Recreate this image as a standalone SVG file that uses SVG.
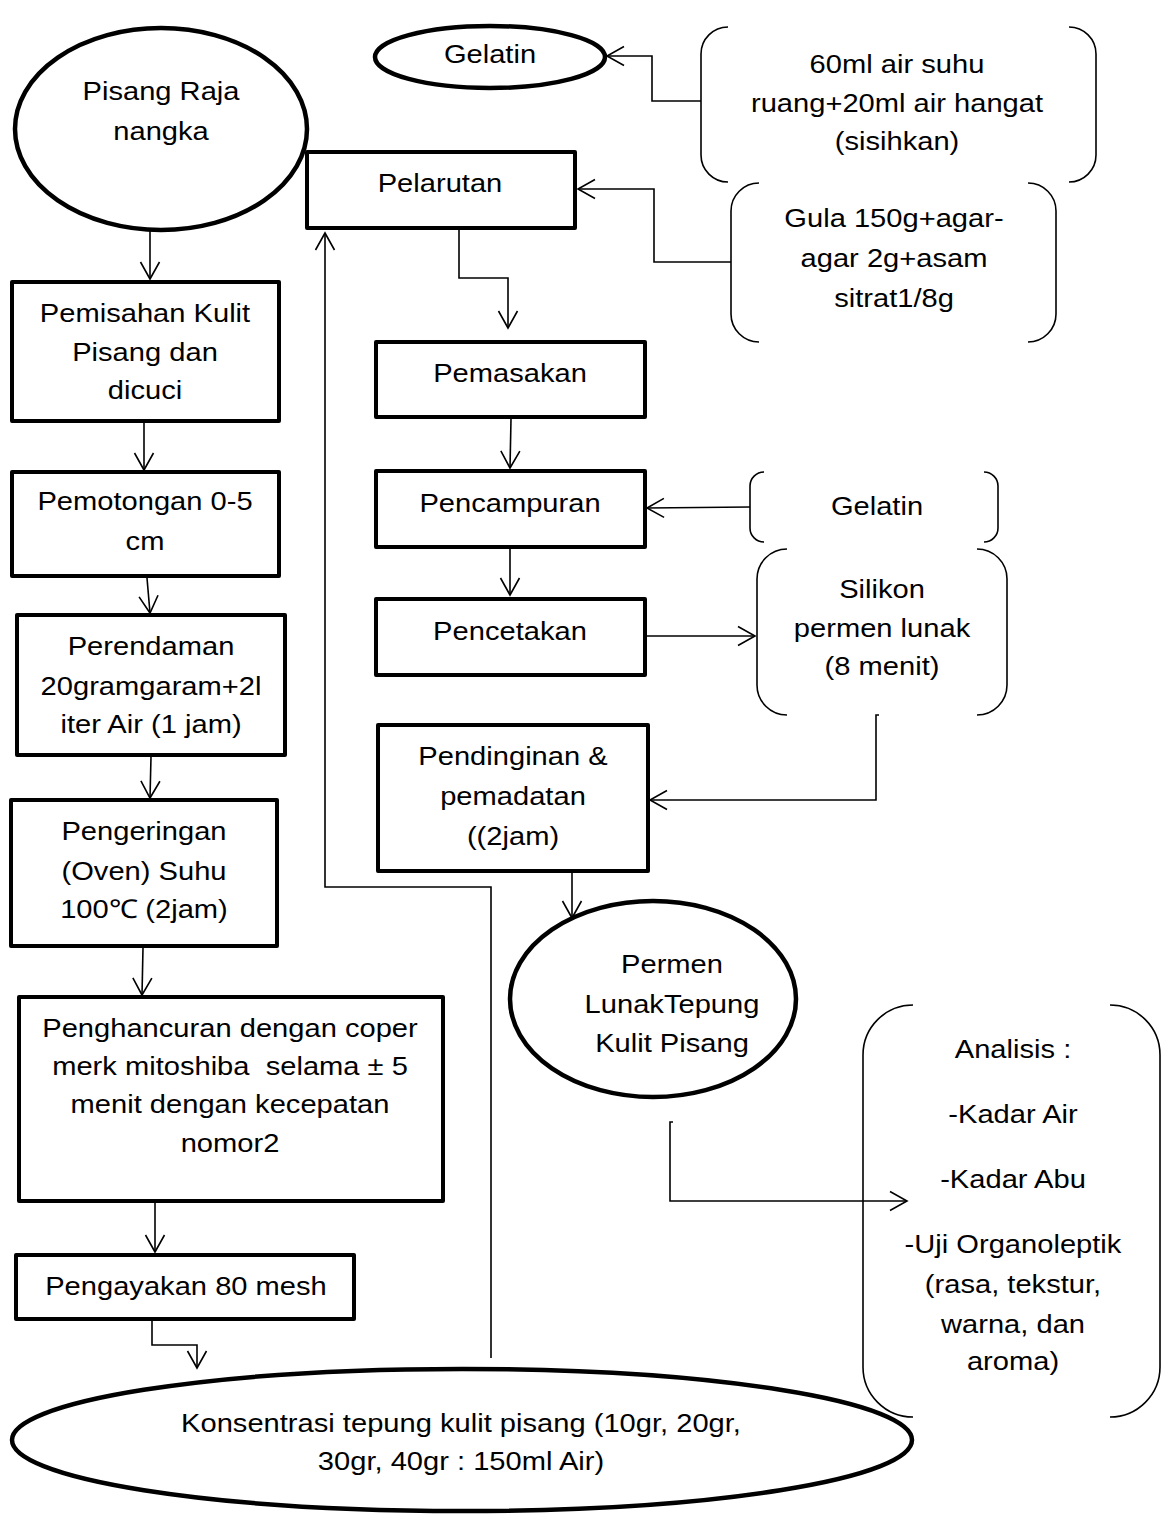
<svg xmlns="http://www.w3.org/2000/svg" width="1162" height="1514" viewBox="0 0 1162 1514">
<style>
.box{fill:#fff;stroke:#000;stroke-width:4;stroke-linejoin:round}
.oval{fill:#fff;stroke:#000;stroke-width:4.5}
.brace{fill:none;stroke:#000;stroke-width:1.6}
.con{fill:none;stroke:#000;stroke-width:1.6}
.arr{marker-end:url(#ah)}
text{font-family:"Liberation Sans",Arial,sans-serif;font-size:26px;text-anchor:middle;fill:#000}
</style>
<defs>
<marker id="ah" markerUnits="userSpaceOnUse" viewBox="-18 -11 20 22" refX="0" refY="0" markerWidth="20" markerHeight="22" orient="auto">
<path d="M-17,-9.5 L0,0 L-17,9.5" fill="none" stroke="#000" stroke-width="1.6"/>
</marker>
</defs>
<rect width="1162" height="1514" fill="#fff"/>

<g id="connectors">
<path class="con arr" d="M150,231 L150,279"/>
<path class="con arr" d="M144,423 L144,470"/>
<path class="con arr" d="M147,578 L150,613"/>
<path class="con arr" d="M151,757 L150,798"/>
<path class="con arr" d="M143,948 L142,995"/>
<path class="con arr" d="M155,1203 L155,1252"/>
<path class="con arr" d="M152,1321 L152,1345 L197,1345 L197,1368"/>
<path class="con arr" d="M491,1358 L491,887 L325,887 L325,233"/>
<path class="con arr" d="M459,230 L459,278 L508,278 L508,328"/>
<path class="con arr" d="M511,419 L510,468"/>
<path class="con arr" d="M510,549 L510,595"/>
<path class="con arr" d="M647,636 L755,636"/>
<path class="con arr" d="M879,715 L876,715 L876,800 L650,800"/>
<path class="con arr" d="M572,873 L572,918"/>
<path class="con arr" d="M673,1122 L670,1122 L670,1201 L907,1201"/>
<path class="con arr" d="M701,101 L652,101 L652,56 L607,56"/>
<path class="con arr" d="M731,262 L654,262 L654,189 L578,189"/>
<path class="con arr" d="M750,507 L647,508"/>
</g>

<g id="pisang">
<ellipse class="oval" cx="161" cy="129" rx="146" ry="101"/>
<text transform="matrix(1.12 0 0 1 161 0)"><tspan x="0" y="100">Pisang Raja</tspan><tspan x="0" y="140">nangka</tspan></text>
</g>

<g id="gelatin1">
<ellipse class="oval" cx="490" cy="57" rx="115" ry="31"/>
<text transform="matrix(1.12 0 0 1 490 0)"><tspan x="0" y="63">Gelatin</tspan></text>
</g>

<g id="air">
<path class="brace" d="M728,27 A27,27 0 0 0 701,54 L701,155 A27,27 0 0 0 728,182"/>
<path class="brace" d="M1069,27 A27,27 0 0 1 1096,54 L1096,155 A27,27 0 0 1 1069,182"/>
<text transform="matrix(1.12 0 0 1 897 0)"><tspan x="0" y="73">60ml air suhu</tspan><tspan x="0" y="112">ruang+20ml air hangat</tspan><tspan x="0" y="150">(sisihkan)</tspan></text>
</g>

<g id="gula">
<path class="brace" d="M759,183 A28,28 0 0 0 731,211 L731,314 A28,28 0 0 0 759,342"/>
<path class="brace" d="M1028,183 A28,28 0 0 1 1056,211 L1056,314 A28,28 0 0 1 1028,342"/>
<text transform="matrix(1.12 0 0 1 894 0)"><tspan x="0" y="227">Gula 150g+agar-</tspan><tspan x="0" y="267">agar 2g+asam</tspan><tspan x="0" y="307">sitrat1/8g</tspan></text>
</g>

<g id="pemisahan">
<rect class="box" x="12" y="282" width="267" height="139"/>
<text transform="matrix(1.12 0 0 1 145 0)"><tspan x="0" y="322">Pemisahan Kulit</tspan><tspan x="0" y="361">Pisang dan</tspan><tspan x="0" y="399">dicuci</tspan></text>
</g>

<g id="pemotongan">
<rect class="box" x="12" y="472" width="267" height="104"/>
<text transform="matrix(1.12 0 0 1 145 0)"><tspan x="0" y="510">Pemotongan 0-5</tspan><tspan x="0" y="550">cm</tspan></text>
</g>

<g id="perendaman">
<rect class="box" x="17" y="615" width="268" height="140"/>
<text transform="matrix(1.12 0 0 1 151 0)"><tspan x="0" y="655">Perendaman</tspan><tspan x="0" y="695">20gramgaram+2l</tspan><tspan x="0" y="733">iter Air (1 jam)</tspan></text>
</g>

<g id="pengeringan">
<rect class="box" x="11" y="800" width="266" height="146"/>
<text transform="matrix(1.12 0 0 1 144 0)"><tspan x="0" y="840">Pengeringan</tspan><tspan x="0" y="880">(Oven) Suhu</tspan><tspan x="0" y="918">100℃ (2jam)</tspan></text>
</g>

<g id="penghancuran">
<rect class="box" x="19" y="997" width="424" height="204"/>
<text transform="matrix(1.12 0 0 1 230 0)" xml:space="preserve"><tspan x="0" y="1037">Penghancuran dengan coper</tspan><tspan x="0" y="1075">merk mitoshiba  selama ± 5</tspan><tspan x="0" y="1113">menit dengan kecepatan</tspan><tspan x="0" y="1152">nomor2</tspan></text>
</g>

<g id="pengayakan">
<rect class="box" x="16" y="1255" width="338" height="64"/>
<text transform="matrix(1.12 0 0 1 186 0)"><tspan x="0" y="1295">Pengayakan 80 mesh</tspan></text>
</g>

<g id="konsentrasi">
<ellipse class="oval" cx="462" cy="1440" rx="450" ry="71"/>
<text transform="matrix(1.12 0 0 1 461 0)"><tspan x="0" y="1432">Konsentrasi tepung kulit pisang (10gr, 20gr,</tspan><tspan x="0" y="1470">30gr, 40gr : 150ml Air)</tspan></text>
</g>

<g id="pelarutan">
<rect class="box" x="307" y="152" width="268" height="76"/>
<text transform="matrix(1.12 0 0 1 440 0)"><tspan x="0" y="192">Pelarutan</tspan></text>
</g>

<g id="pemasakan">
<rect class="box" x="376" y="342" width="269" height="75"/>
<text transform="matrix(1.12 0 0 1 510 0)"><tspan x="0" y="382">Pemasakan</tspan></text>
</g>

<g id="pencampuran">
<rect class="box" x="376" y="471" width="269" height="76"/>
<text transform="matrix(1.12 0 0 1 510 0)"><tspan x="0" y="512">Pencampuran</tspan></text>
</g>

<g id="gelatin2">
<path class="brace" d="M764,472 A14,14 0 0 0 750,486 L750,528 A14,14 0 0 0 764,542"/>
<path class="brace" d="M984,472 A14,14 0 0 1 998,486 L998,528 A14,14 0 0 1 984,542"/>
<text transform="matrix(1.12 0 0 1 877 0)"><tspan x="0" y="515">Gelatin</tspan></text>
</g>

<g id="pencetakan">
<rect class="box" x="376" y="599" width="269" height="76"/>
<text transform="matrix(1.12 0 0 1 510 0)"><tspan x="0" y="640">Pencetakan</tspan></text>
</g>

<g id="silikon">
<path class="brace" d="M787,549 A30,30 0 0 0 757,579 L757,685 A30,30 0 0 0 787,715"/>
<path class="brace" d="M977,549 A30,30 0 0 1 1007,579 L1007,685 A30,30 0 0 1 977,715"/>
<text transform="matrix(1.12 0 0 1 882 0)"><tspan x="0" y="598">Silikon</tspan><tspan x="0" y="637">permen lunak</tspan><tspan x="0" y="675">(8 menit)</tspan></text>
</g>

<g id="pendinginan">
<rect class="box" x="378" y="725" width="270" height="146"/>
<text transform="matrix(1.12 0 0 1 513 0)"><tspan x="0" y="765">Pendinginan &amp;</tspan><tspan x="0" y="805">pemadatan</tspan><tspan x="0" y="845">((2jam)</tspan></text>
</g>

<g id="permen">
<ellipse class="oval" cx="653" cy="999" rx="143" ry="98"/>
<text transform="matrix(1.12 0 0 1 672 0)"><tspan x="0" y="973">Permen</tspan><tspan x="0" y="1013">LunakTepung</tspan><tspan x="0" y="1052">Kulit Pisang</tspan></text>
</g>

<g id="analisis">
<path class="brace" d="M913,1005 A50,50 0 0 0 863,1055 L863,1367 A50,50 0 0 0 913,1417"/>
<path class="brace" d="M1110,1005 A50,50 0 0 1 1160,1055 L1160,1367 A50,50 0 0 1 1110,1417"/>
<text transform="matrix(1.12 0 0 1 1013 0)"><tspan x="0" y="1058">Analisis :</tspan><tspan x="0" y="1123">-Kadar Air</tspan><tspan x="0" y="1188">-Kadar Abu</tspan><tspan x="0" y="1253">-Uji Organoleptik</tspan><tspan x="0" y="1293">(rasa, tekstur,</tspan><tspan x="0" y="1333">warna, dan</tspan><tspan x="0" y="1370">aroma)</tspan></text>
</g>
</svg>
